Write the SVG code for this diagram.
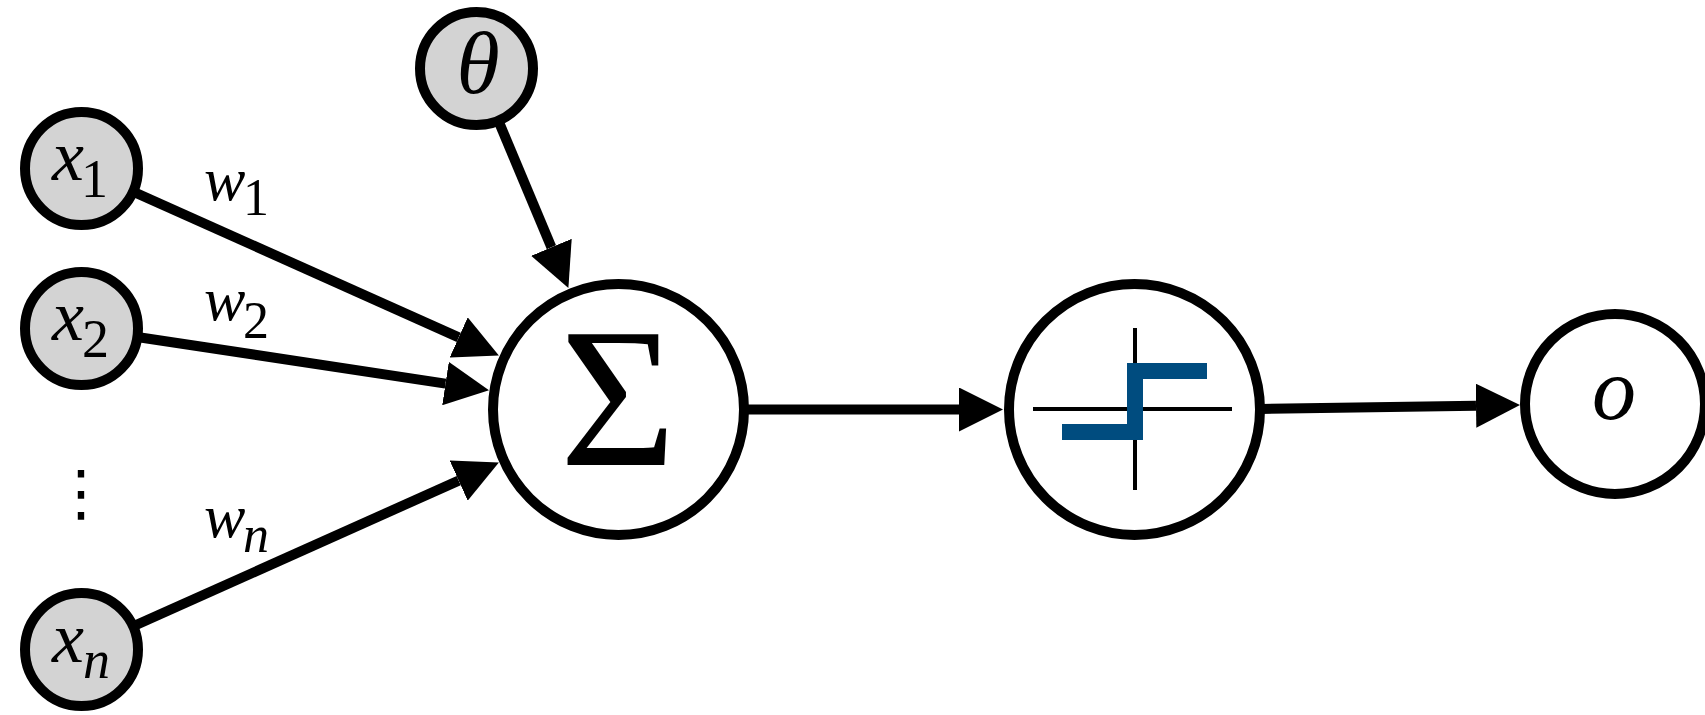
<svg xmlns="http://www.w3.org/2000/svg" width="1705" height="715" viewBox="0 0 1705 715">
<defs>
<style>
.in{fill:#d3d3d3;stroke:#000;stroke-width:10}
.op{fill:#fff;stroke:#000;stroke-width:10}
.edge{stroke:#000;stroke-width:10;fill:none;marker-end:url(#ah)}
</style>
<marker id="ah" markerUnits="userSpaceOnUse" markerWidth="44" markerHeight="44" refX="0" refY="22" orient="auto" viewBox="0 0 44 44">
<path d="M0,0 L44,22 L0,44 z" fill="#000"/>
</marker>
</defs>
<rect width="1705" height="715" fill="#fff"/>
<g id="connectors">
<line class="edge" x1="134.4" y1="192.2" x2="458.7" y2="337.4"/>
<line class="edge" x1="138.8" y1="337.2" x2="445.5" y2="383.6"/>
<line class="edge" x1="134.4" y1="625.8" x2="458.7" y2="480.6"/>
<line class="edge" x1="498.9" y1="122.0" x2="551.4" y2="247.3"/>
<line class="edge" x1="745" y1="409.5" x2="959" y2="409.5"/>
<line class="edge" x1="1261" y1="409" x2="1476" y2="405.7"/>
</g>
<g id="weights" font-family="Liberation Serif, Times New Roman, serif" fill="#000">
<text x="204" y="200" font-size="62" font-style="italic">w<tspan font-style="normal" x="243" y="215" font-size="52">1</tspan></text>
<text x="204" y="320" font-size="62" font-style="italic">w<tspan font-style="normal" x="243" y="338" font-size="52">2</tspan></text>
<text x="204" y="537" font-size="62" font-style="italic">w<tspan x="243" y="552" font-size="52">n</tspan></text>
</g>
<g id="x1" font-family="Liberation Serif, Times New Roman, serif">
<circle class="in" cx="81.5" cy="168.5" r="56.5"/>
<text x="52" y="180" font-size="72" font-style="italic">x<tspan font-style="normal" x="81" y="197" font-size="54">1</tspan></text>
</g>
<g id="x2" font-family="Liberation Serif, Times New Roman, serif">
<circle class="in" cx="81.5" cy="328.5" r="56.5"/>
<text x="52" y="340" font-size="72" font-style="italic">x<tspan font-style="normal" x="82" y="357" font-size="54">2</tspan></text>
</g>
<g id="dots">
<text x="81" y="514" font-family="DejaVu Sans, sans-serif" font-size="62" text-anchor="middle">⋮</text>
</g>
<g id="xn" font-family="Liberation Serif, Times New Roman, serif">
<circle class="in" cx="81.5" cy="649.5" r="56.5"/>
<text x="52" y="662" font-size="72" font-style="italic">x<tspan x="83" y="678" font-size="54">n</tspan></text>
</g>
<g id="theta" font-family="Liberation Serif, Times New Roman, serif">
<circle class="in" cx="476.5" cy="68.5" r="56.5"/>
<text x="478" y="93" font-size="88" font-style="italic" text-anchor="middle">θ</text>
</g>
<g id="sum" font-family="Liberation Serif, Times New Roman, serif">
<circle class="op" cx="618.5" cy="409.5" r="125.5"/>
<text x="618" y="465" font-size="200" text-anchor="middle">Σ</text>
</g>
<g id="step">
<circle class="op" cx="1134.5" cy="409.5" r="125.5"/>
<line x1="1033" y1="409" x2="1232" y2="409" stroke="#000" stroke-width="4"/>
<line x1="1135" y1="328" x2="1135" y2="490" stroke="#000" stroke-width="4"/>
<path d="M1062,432 H1135 V371 H1207" fill="none" stroke="#004c7f" stroke-width="16" stroke-linejoin="miter" stroke-linecap="butt"/>
</g>
<g id="output" font-family="Liberation Serif, Times New Roman, serif">
<circle class="op" cx="1615" cy="404" r="90"/>
<text x="1614" y="419" font-size="88" font-style="italic" text-anchor="middle">o</text>
</g>
</svg>
